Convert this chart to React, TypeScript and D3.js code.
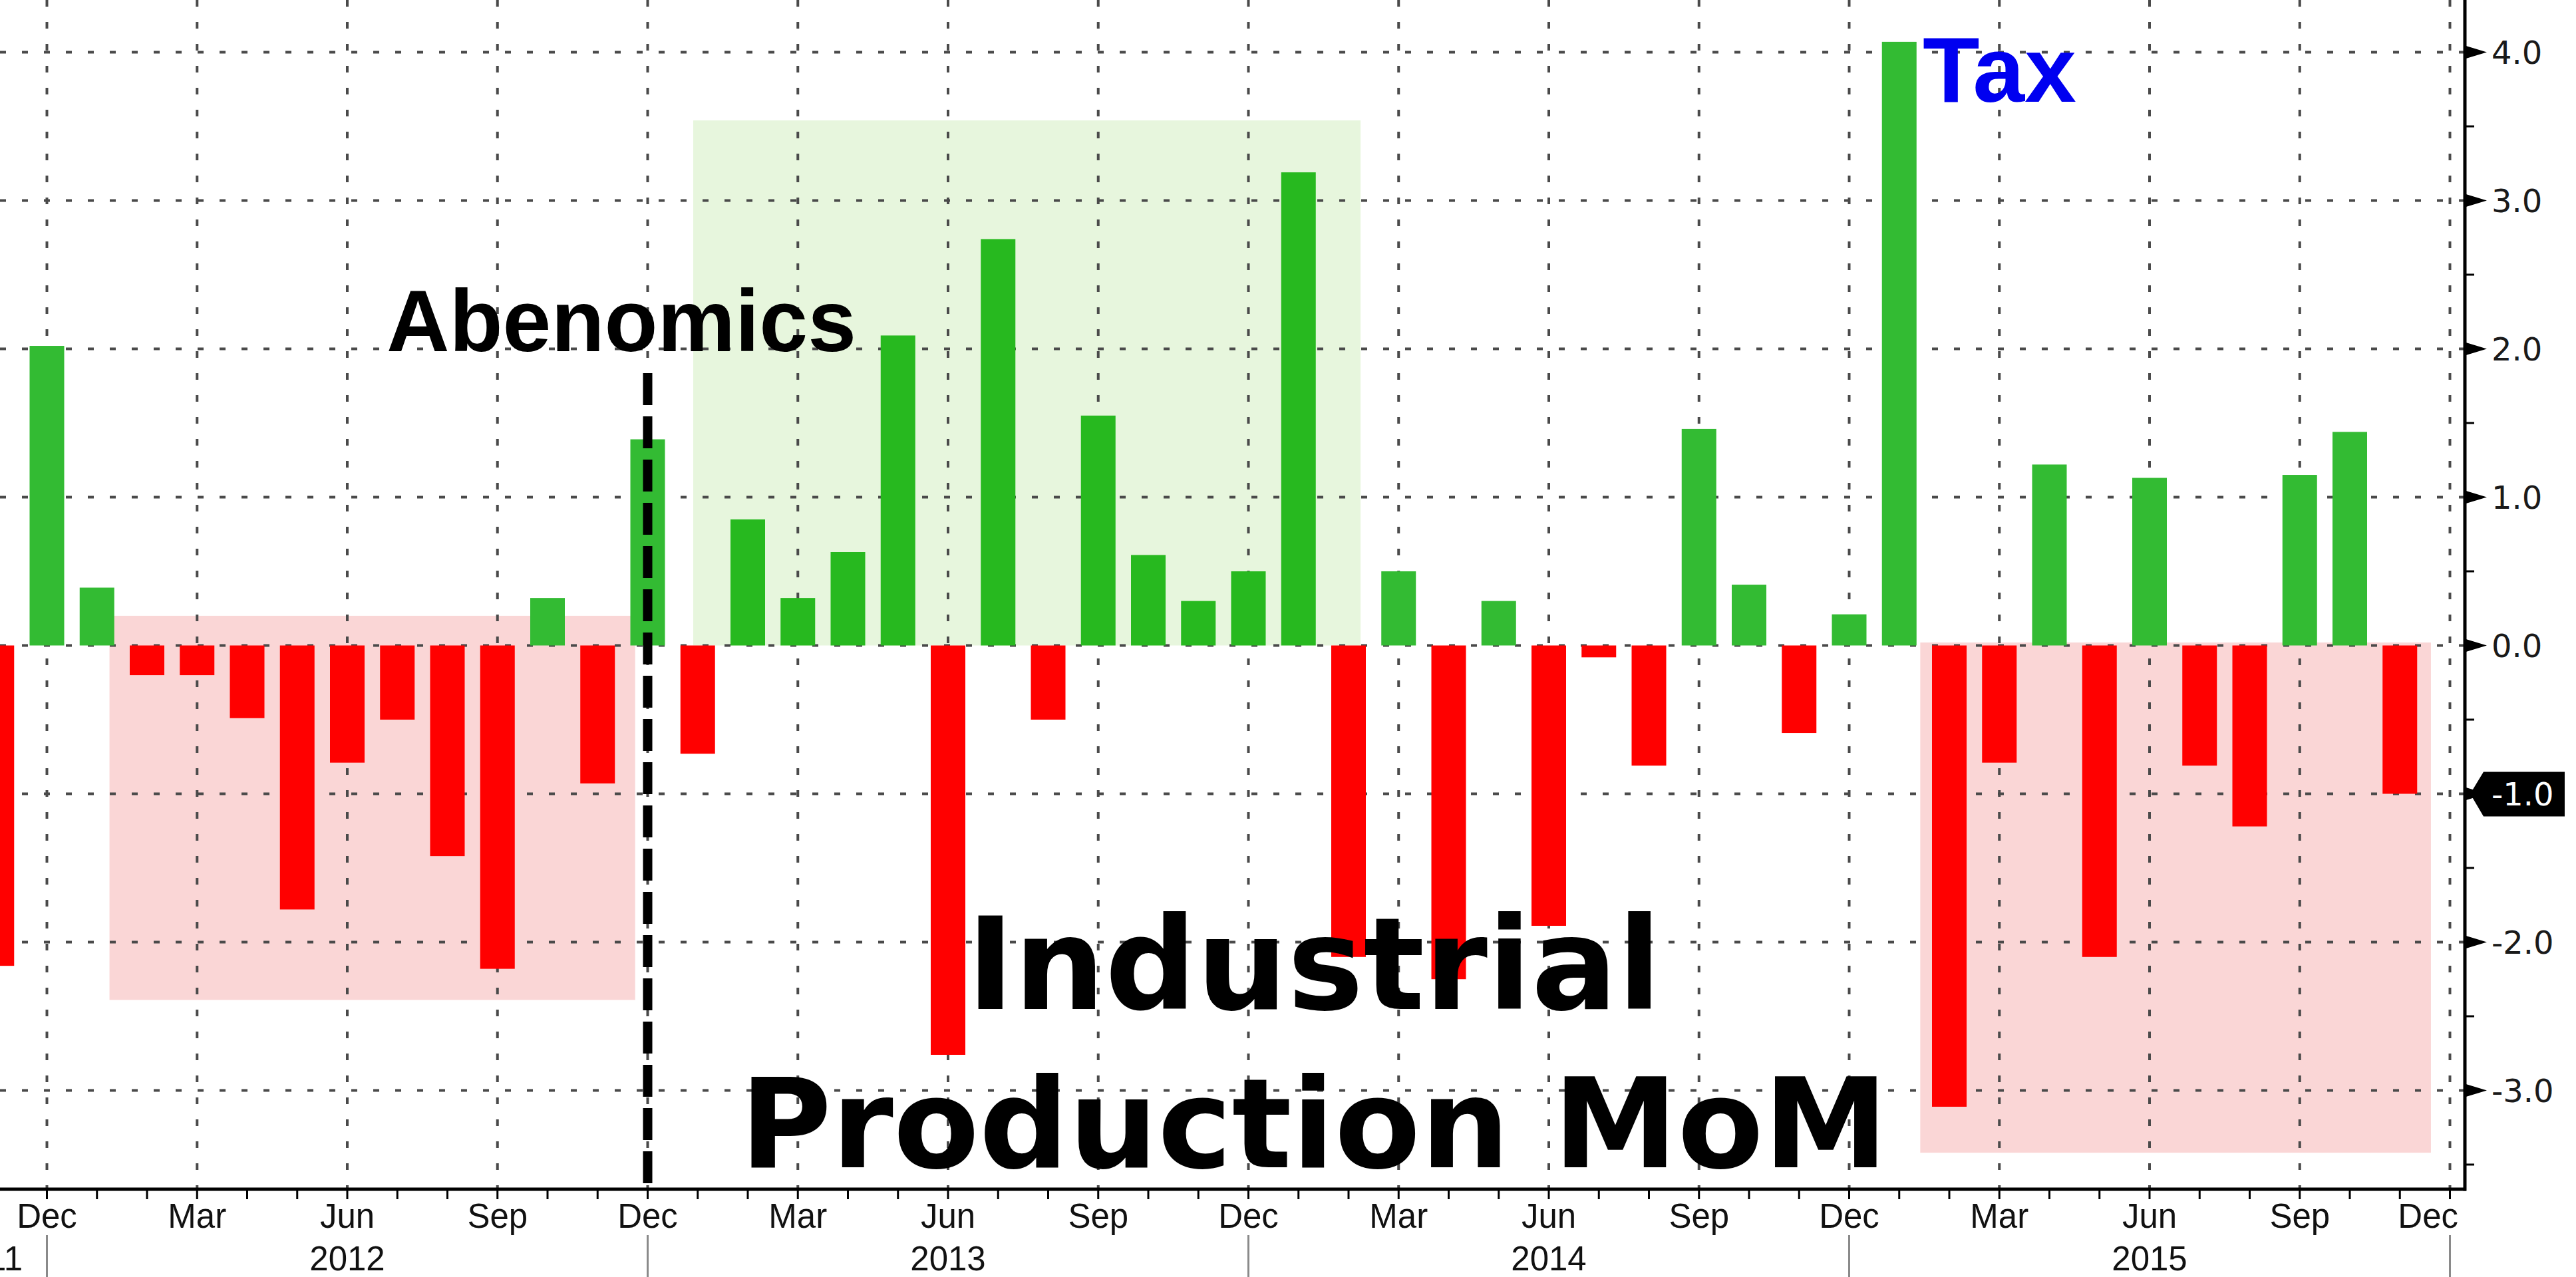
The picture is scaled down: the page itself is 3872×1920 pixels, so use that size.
import React, { useEffect } from "react";
import * as d3 from "d3";

// ---- Data (monthly, Nov 2011 .. Nov 2015) ----
const startMonth = "2011-11";
const values: number[] = [
  -2.16, 2.02, // 2011 Nov, Dec
  0.39, -0.2, -0.2, -0.49, -1.78, -0.79, -0.5, -1.42, -2.18, 0.32, -0.93, 1.39, // 2012
  -0.73, 0.85, 0.32, 0.63, 2.09, -2.76, 2.74, -0.5, 1.55, 0.61, 0.3, 0.5, // 2013
  3.19, -2.1, 0.5, -2.25, 0.3, -1.89, -0.08, -0.81, 1.46, 0.41, -0.59, 0.21, // 2014
  4.07, -3.11, -0.79, 1.22, -2.1, 1.13, -0.81, -1.22, 1.15, 1.44, -1.0, // 2015
];
const monthNames = ["Jan", "Feb", "Mar", "Apr", "May", "Jun", "Jul", "Aug", "Sep", "Oct", "Nov", "Dec"];
const labelMonths = ["Mar", "Jun", "Sep", "Dec"];
const yearLabels = ["2011", "2012", "2013", "2014", "2015"];
const yTicks = [-3, -2, -1, 0, 1, 2, 3, 4];
const yMinorTicks = [-3.5, -2.5, -1.5, -0.5, 0.5, 1.5, 2.5, 3.5];
const lastValue = -1.0;

// shaded regions: [from month index, to month index, top value, bottom value]
const pinkBoxes = [
  [2.25, 12.75, 0.2, -2.39],
  [38.42, 48.62, 0.02, -3.42],
];
const greenBoxes = [[13.91, 27.24, 3.54, 0.0]];
const abenomicsIndex = 13; // Dec 2012

const W = 3872;
const H = 1920;
const plotRight = 3705;
const plotBottom = 1788;

function fmt(v: number) {
  const s = Math.abs(v).toFixed(1);
  return v < 0 ? "-" + s : s;
}

export default function App() {
  useEffect(() => {
    document.body.style.margin = "0";
    document.body.style.overflow = "hidden";
  }, []);

  const start = d3.timeParse("%Y-%m")(startMonth) as Date;
  const dates = values.map((_, i) => d3.timeMonth.offset(start, i));

  const x = d3.scaleLinear().domain([0, 49]).range([-4.75, 3682.5]);
  const y = d3.scaleLinear().domain([-3.666, 4.352]).range([plotBottom, 0]);
  const barW = 52;

  const allIdx = d3.range(0, 50);
  const monthOf = (i: number) => monthNames[d3.timeMonth.offset(start, i).getMonth()];
  const yearOf = (i: number) => d3.timeMonth.offset(start, i).getFullYear();

  const gridIdx = allIdx.filter((i) => labelMonths.includes(monthOf(i)));
  const decIdx = allIdx.filter((i) => monthOf(i) === "Dec");

  const inGreen = (i: number) => greenBoxes.some((b) => i > b[0] && i < b[1]);

  const gridColor = "#4a4a4a";
  const labelFont = "'Liberation Sans', Arial, sans-serif";

  return (
    <svg
      width={W}
      height={H}
      viewBox={`0 0 ${W} ${H}`}
      style={{ position: "absolute", left: 0, top: 0, display: "block", background: "#ffffff" }}
    >
      <defs>
        <clipPath id="plot">
          <rect x={0} y={0} width={plotRight} height={plotBottom} />
        </clipPath>
      </defs>
      <rect x={0} y={0} width={W} height={H} fill="#ffffff" />

      <g clipPath="url(#plot)">
        {/* shaded regions */}
        {pinkBoxes.map((b, k) => (
          <rect
            key={"p" + k}
            x={x(b[0])}
            y={y(b[2])}
            width={x(b[1]) - x(b[0])}
            height={y(b[3]) - y(b[2])}
            fill="#fad6d6"
          />
        ))}
        {greenBoxes.map((b, k) => (
          <rect
            key={"g" + k}
            x={x(b[0])}
            y={y(b[2])}
            width={x(b[1]) - x(b[0])}
            height={y(b[3]) - y(b[2])}
            fill="#e7f6dd"
          />
        ))}

        {/* grid */}
        {yTicks.map((t) => (
          <line
            key={"hg" + t}
            x1={0}
            x2={plotRight}
            y1={y(t)}
            y2={y(t)}
            stroke={gridColor}
            strokeWidth={4}
            strokeDasharray="9 24"
          />
        ))}
        {gridIdx.map((i) => (
          <line
            key={"vg" + i}
            x1={x(i)}
            x2={x(i)}
            y1={0}
            y2={plotBottom}
            stroke={gridColor}
            strokeWidth={4}
            strokeDasharray="10 23"
          />
        ))}

        {/* bars */}
        {values.map((v, i) => (
          <rect
            key={"b" + i}
            x={x(i) - barW / 2}
            width={barW}
            y={v >= 0 ? y(v) : y(0)}
            height={Math.abs(y(v) - y(0))}
            fill={v >= 0 ? (inGreen(i) ? "#27b91f" : "#33bb33") : "#ff0000"}
          />
        ))}

        {/* Abenomics line */}
        <line
          x1={x(abenomicsIndex)}
          x2={x(abenomicsIndex)}
          y1={561}
          y2={plotBottom}
          stroke="#000000"
          strokeWidth={14}
          strokeDasharray="48 17"
        />
      </g>

      {/* annotations */}
      <text
        x={934}
        y={528}
        textAnchor="middle"
        fontFamily={labelFont}
        fontWeight="bold"
        fontSize={131}
        fill="#000000"
      >
        Abenomics
      </text>
      <text x={2890} y={153} fontFamily={labelFont} fontWeight="bold" fontSize={140} fill="#0000f0">
        Tax
      </text>
      <text
        x={1975}
        y={1517}
        textAnchor="middle"
        fontFamily="'DejaVu Sans', Verdana, sans-serif"
        fontWeight="bold"
        fontSize={192}
        fill="#000000"
      >
        Industrial
      </text>
      <text
        x={1975}
        y={1755}
        textAnchor="middle"
        fontFamily="'DejaVu Sans', Verdana, sans-serif"
        fontWeight="bold"
        fontSize={188}
        fill="#000000"
      >
        Production MoM
      </text>

      {/* bottom axis */}
      <line x1={0} x2={plotRight + 2} y1={plotBottom} y2={plotBottom} stroke="#000" strokeWidth={5} />
      {allIdx
        .filter((i) => x(i) > 0 && x(i) < plotRight)
        .map((i) => (
          <line key={"bt" + i} x1={x(i)} x2={x(i)} y1={plotBottom} y2={plotBottom + 15} stroke="#000" strokeWidth={3} />
        ))}
      {gridIdx.map((i) => {
        const px = x(i);
        const nearEdge = px + 46 > plotRight;
        return (
          <text
            key={"ml" + i}
            x={nearEdge ? plotRight - 10 : px}
            y={1846}
            textAnchor={nearEdge ? "end" : "middle"}
            fontFamily={labelFont}
            fontSize={51}
            fill="#111"
          >
            {monthOf(i)}
          </text>
        );
      })}
      {decIdx.map((i) => (
        <line key={"ys" + i} x1={x(i)} x2={x(i)} y1={1857} y2={H} stroke="#8a8a8a" strokeWidth={3} />
      ))}
      {yearLabels.map((yr) => {
        const idx = allIdx.filter((i) => String(yearOf(i)) === yr && monthOf(i) === "Jun");
        if (idx.length) {
          return (
            <text key={yr} x={x(idx[0])} y={1910} textAnchor="middle" fontFamily={labelFont} fontSize={51} fill="#111">
              {yr}
            </text>
          );
        }
        return (
          <text key={yr} x={34} y={1910} textAnchor="end" fontFamily={labelFont} fontSize={51} fill="#111">
            {yr}
          </text>
        );
      })}

      {/* right axis */}
      <line x1={plotRight} x2={plotRight} y1={0} y2={plotBottom + 2.5} stroke="#000" strokeWidth={5} />
      {yMinorTicks.map((t) => (
        <line key={"mt" + t} x1={plotRight} x2={plotRight + 14} y1={y(t)} y2={y(t)} stroke="#000" strokeWidth={3} />
      ))}
      {yTicks.map((t) => (
        <g key={"yt" + t}>
          <path
            d={`M${plotRight},${y(t) - 10} L${plotRight + 33},${y(t)} L${plotRight},${y(t) + 10} Z`}
            fill="#000"
          />
          <text
            x={plotRight + 40}
            y={y(t) + 18}
            fontFamily="'DejaVu Sans', Verdana, sans-serif"
            fontSize={48}
            fill="#1a1a1a"
          >
            {fmt(t)}
          </text>
        </g>
      ))}

      {/* last value marker */}
      <path
        d={`M${plotRight + 8},${y(lastValue)} L${plotRight + 28},${y(lastValue) - 33} L${plotRight + 150},${
          y(lastValue) - 33
        } L${plotRight + 150},${y(lastValue) + 34} L${plotRight + 28},${y(lastValue) + 34} Z`}
        fill="#000"
      />
      <text
        x={plotRight + 40}
        y={y(lastValue) + 18}
        fontFamily="'DejaVu Sans', Verdana, sans-serif"
        fontSize={48}
        fill="#ffffff"
      >
        {fmt(lastValue)}
      </text>
    </svg>
  );
}
